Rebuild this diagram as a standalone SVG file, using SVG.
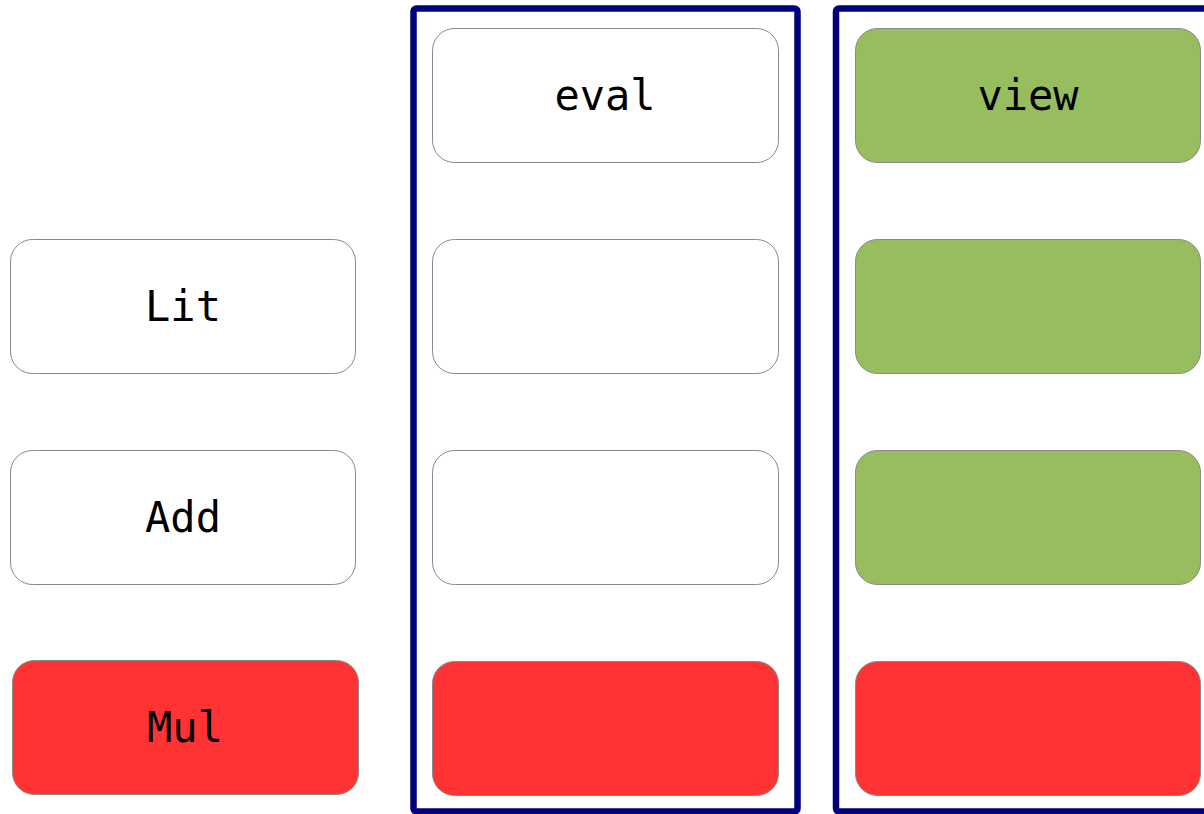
<svg xmlns="http://www.w3.org/2000/svg" width="1204" height="814" viewBox="0 0 1204 814">
<style>
.n{stroke:#8a8a8a;stroke-width:1}
.w{fill:#ffffff}
.r{fill:#ff3333}
.g{fill:#97bd5f}
.f{fill:none;stroke:#000080;stroke-width:6.5}
text{font-family:"DejaVu Sans Mono","Liberation Mono",monospace;font-size:42px;fill:#000;text-anchor:middle}
</style>
<rect width="1204" height="814" fill="#fff"/>
<g id="frames">
<rect id="frame-eval" class="f" x="413.5" y="8.5" width="384" height="803" rx="3"/>
<rect id="frame-view" class="f" x="836" y="8.5" width="380" height="803" rx="3"/>
</g>
<g id="node-lit"><rect class="n w" x="10.5" y="239.5" width="345" height="134" rx="22"/><text x="183" y="321">Lit</text></g>
<g id="node-add"><rect class="n w" x="10.5" y="450.5" width="345" height="134" rx="22"/><text x="183" y="532">Add</text></g>
<g id="node-mul"><rect class="n r" x="12.5" y="660.5" width="346" height="134" rx="22"/><text x="185" y="742">Mul</text></g>
<g id="node-eval"><rect class="n w" x="432.5" y="28.5" width="346" height="134" rx="22"/><text x="605" y="110">eval</text></g>
<g id="node-eval-lit"><rect class="n w" x="432.5" y="239.5" width="346" height="134" rx="22"/></g>
<g id="node-eval-add"><rect class="n w" x="432.5" y="450.5" width="346" height="134" rx="22"/></g>
<g id="node-eval-mul"><rect class="n r" x="432.5" y="661.5" width="346" height="134" rx="22"/></g>
<g id="node-view"><rect class="n g" x="855.5" y="28.5" width="345" height="134" rx="22"/><text x="1028" y="110">view</text></g>
<g id="node-view-lit"><rect class="n g" x="855.5" y="239.5" width="345" height="134" rx="22"/></g>
<g id="node-view-add"><rect class="n g" x="855.5" y="450.5" width="345" height="134" rx="22"/></g>
<g id="node-view-mul"><rect class="n r" x="855.5" y="661.5" width="345" height="134" rx="22"/></g>
<g id="connectors"></g>
</svg>
